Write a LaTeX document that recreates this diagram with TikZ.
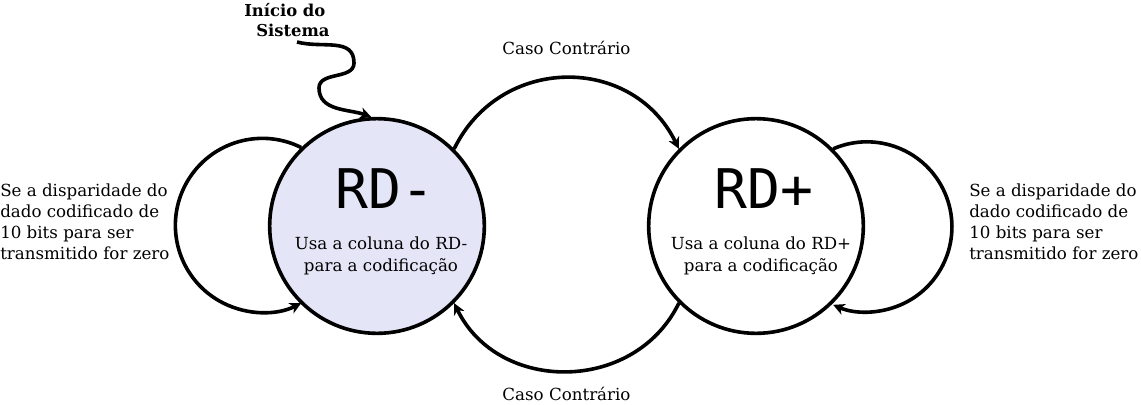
\documentclass[tikz,border=0pt]{standalone}
\usepackage{fontspec}
\setmainfont{DejaVu Serif}
\newfontfamily\rdfont{DejaVu Sans Mono}
\usepackage{xcolor}
\usetikzlibrary{arrows.meta}
\definecolor{rdfill}{RGB}{229,229,248}

\begin{document}
\begin{tikzpicture}[x=0.75pt,y=0.75pt,
  state/.style={draw,circle,line width=2.7pt,minimum size=161pt,inner sep=0pt},
  trans/.style={line width=2.7pt,-{Stealth[length=8.5pt,width=8.5pt,inset=2.5pt]}},
  lab/.style={font=\fontsize{12.5}{15.75}\selectfont,align=left,inner sep=0pt},
  sub/.style={font=\fontsize{12.5}{16.5}\selectfont,align=center,inner sep=0pt},
  big/.style={font=\rdfont\fontsize{41}{44}\selectfont,inner sep=0pt,anchor=base}]
\useasboundingbox (0,0) rectangle (1141,-404);
% estados
\node[state,fill=rdfill] (rdm) at (377,-226) {};
\node[state] (rdp) at (756,-226) {};
\node[big] (rdmt) at (385,-208) {RD-};
\node[big] (rdpt) at (764,-208) {RD+};
\node[sub] (rdms) at (381,-256) {Usa a coluna do RD-\\para a codificação};
\node[sub] (rdps) at (761,-256) {Usa a coluna do RD+\\para a codificação};
% textos dos lacos
\node[lab,anchor=west] (lm) at (0,-222) {Se a disparidade do\\dado codificado de\\10 bits para ser\\transmitido for zero};
\node[lab,anchor=west] (lp) at (969,-222) {Se a disparidade do\\dado codificado de\\10 bits para ser\\transmitido for zero};
% inicio
\node[lab,font=\bfseries\fontsize{12.3}{15}\selectfont,anchor=north west] (sys) at (244,-3) {Início do\\\hspace*{9pt}Sistema};
\coordinate (ini) at (297,-42);
\draw[trans] (ini) to[out=-15,in=90,looseness=1.1] (354,-63) to[out=-90,in=90] (319,-88) to[out=-90,in=160] (rdm.93);
% transicoes
\draw[trans] (rdm.134.4) arc[start angle=63.5,end angle=296.5,radius=87];
\draw[trans] (rdp.45.7) arc[start angle=113.4,end angle=-113.4,radius=85];
\draw[trans] (rdm.45) to[out=64,in=116,looseness=1.2]
  node[lab,midway,above=16pt] (cc1) {Caso Contrário} (rdp.135);
\draw[trans] (rdp.225) to[out=-116,in=-64,looseness=1.15]
  node[lab,midway,below=11pt] (cc2) {Caso Contrário} (rdm.-45);
\end{tikzpicture}
\end{document}
